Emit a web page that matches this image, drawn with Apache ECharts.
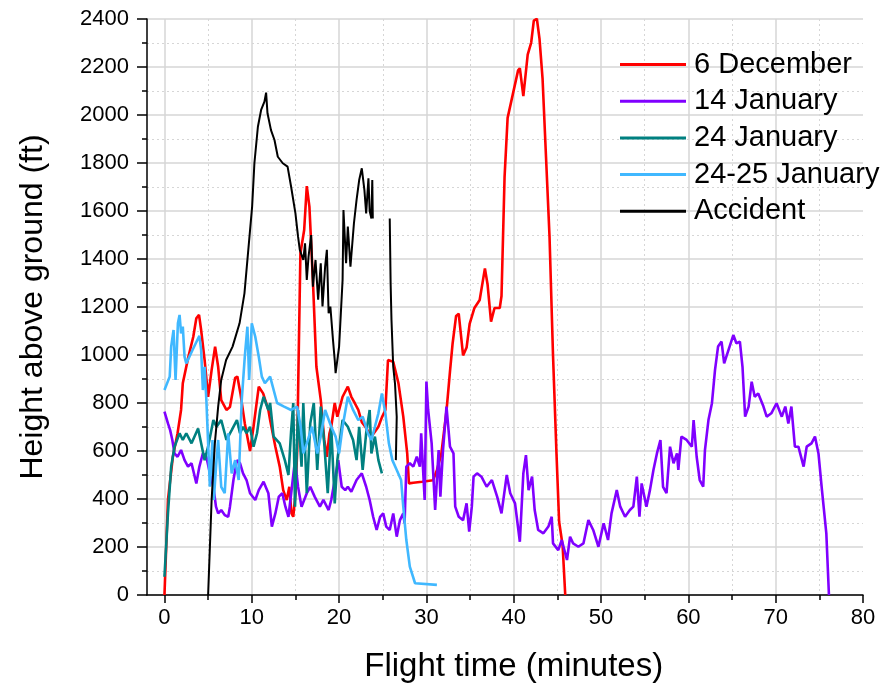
<!DOCTYPE html>
<html><head><meta charset="utf-8">
<script src="https://cdn.jsdelivr.net/npm/echarts@6/dist/echarts.min.js"></script>
<style>html,body{margin:0;padding:0;background:#fff}#c{width:890px;height:700px}</style>
</head><body><div id="c"></div>
<script>
// ---- data (x = flight time in minutes, y = height above ground in ft) ----
const seriesNames = ['6 December', '14 January', '24 January', '24-25 January', 'Accident'];
const xAxisRange = [0, 80];
const yAxisRange = [0, 2400];

const dec6 = [[0,0],[0.2,200],[0.4,396],[0.96,576],[1.5,674],[1.9,771],[2.1,882],[2.7,986],[3.3,1076],[3.65,1153],[3.96,1167],[4.2,1104],[4.6,979],[5.0,826],[5.4,937],[5.8,1035],[6.15,951],[6.5,812],[7.1,771],[7.5,783],[8.1,905],[8.35,910],[8.7,840],[9.2,715],[9.8,600],[10.2,701],[10.8,868],[11.3,840],[11.9,771],[12.1,729],[12.7,618],[13.2,535],[13.6,437],[14.0,396],[14.3,451],[14.55,340],[14.75,326],[15.0,420],[15.2,600],[15.35,951],[15.57,1424],[16.0,1521],[16.3,1704],[16.6,1618],[17.0,1312],[17.4,951],[17.9,813],[18.3,646],[18.6,576],[18.9,674],[19.1,701],[19.5,800],[19.8,743],[20.4,826],[21.0,868],[21.4,826],[21.8,799],[22.2,771],[22.6,720],[23.0,701],[23.7,660],[24.1,680],[24.5,701],[24.9,740],[25.3,771],[25.6,979],[26.2,972],[26.8,882],[27.35,743],[27.8,590],[28.0,465],[28.5,468],[29.5,472],[30.76,478],[31.2,520],[31.7,586],[32.3,767],[32.7,932],[33.0,1048],[33.4,1163],[33.7,1172],[34.2,998],[34.6,1031],[34.95,1130],[35.5,1196],[36.1,1229],[36.7,1361],[37.0,1295],[37.4,1139],[37.8,1196],[38.4,1196],[38.6,1246],[38.95,1741],[39.3,1988],[39.9,2087],[40.5,2186],[40.7,2195],[41.1,2079],[41.6,2252],[42.0,2302],[42.3,2393],[42.65,2401],[42.95,2318],[43.3,2153],[43.7,1823],[44.1,1493],[44.5,998],[44.9,586],[45.2,305],[45.6,206],[45.9,0]];

const jan14 = [[0,764],[0.4,715],[0.65,687],[0.9,646],[1.15,590],[1.5,576],[1.9,604],[2.3,562],[2.7,535],[3.1,549],[3.65,465],[4.0,535],[4.4,590],[4.8,576],[5.2,507],[5.6,451],[5.9,368],[6.15,340],[6.5,354],[6.9,333],[7.3,326],[7.5,368],[7.9,479],[8.3,562],[8.65,549],[9.0,507],[9.4,479],[9.8,424],[10.4,396],[10.8,437],[11.35,472],[11.9,424],[12.3,285],[12.7,340],[13.1,410],[13.5,424],[13.85,368],[14.2,326],[14.6,451],[14.95,562],[15.3,451],[15.7,368],[16.3,424],[16.7,451],[17.2,410],[17.8,368],[18.2,396],[18.8,354],[19.1,396],[19.5,479],[19.9,562],[20.3,451],[20.7,437],[21.0,451],[21.4,430],[22.0,479],[22.6,507],[23.1,451],[23.5,396],[23.9,326],[24.3,271],[24.7,326],[25.05,340],[25.4,285],[25.8,271],[26.2,340],[26.6,243],[26.97,312],[27.35,340],[27.5,299],[27.7,535],[28.1,549],[28.5,535],[28.9,576],[29.25,535],[29.4,674],[29.6,535],[29.8,396],[30.0,889],[30.2,771],[30.6,632],[31.0,354],[31.4,604],[31.6,410],[31.9,604],[32.3,785],[32.7,618],[33.1,590],[33.3,368],[33.7,326],[34.2,312],[34.6,382],[34.9,264],[35.2,368],[35.4,493],[35.8,507],[36.3,493],[36.9,451],[37.5,479],[38.1,410],[38.6,340],[39.2,500],[39.6,424],[40.15,382],[40.7,222],[41.1,507],[41.4,583],[41.7,437],[42.1,493],[42.4,354],[42.8,271],[43.4,257],[43.97,285],[44.35,326],[44.5,215],[45.1,187],[45.5,229],[46.1,146],[46.45,243],[46.8,215],[47.4,201],[47.98,215],[48.55,312],[49.1,271],[49.7,201],[50.3,299],[50.8,229],[51.2,340],[51.8,437],[52.2,368],[52.75,326],[53.3,354],[53.7,368],[54.1,493],[54.4,326],[54.65,465],[55.2,368],[55.6,437],[56.0,521],[56.4,590],[56.8,646],[57.1,451],[57.5,424],[57.9,618],[58.3,549],[58.7,590],[58.85,521],[59.2,660],[59.8,646],[60.4,618],[60.6,729],[60.95,576],[61.3,479],[61.7,451],[61.9,604],[62.3,729],[62.7,799],[63.05,937],[63.4,1035],[63.8,1056],[64.1,965],[64.6,1021],[65.15,1083],[65.5,1049],[65.9,1056],[66.2,951],[66.5,743],[66.9,785],[67.25,889],[67.6,826],[68.0,840],[68.6,785],[68.97,743],[69.5,757],[70.1,799],[70.7,743],[71.1,785],[71.45,715],[71.8,785],[72.2,618],[72.6,618],[73.2,535],[73.55,618],[74.1,632],[74.5,660],[74.9,590],[75.3,437],[75.8,257],[76.1,0]];

const jan24 = [[0,76],[0.4,340],[0.77,535],[1.15,618],[1.73,674],[2.1,646],[2.5,674],[3.1,632],[3.85,694],[4.2,632],[4.6,562],[5.0,618],[5.6,729],[5.96,701],[6.5,729],[7.1,646],[7.7,687],[8.3,729],[8.65,674],[9.0,701],[9.4,674],[9.8,701],[10.2,618],[10.6,674],[10.96,771],[11.35,826],[11.9,771],[12.1,800],[12.5,660],[13.2,632],[13.8,560],[14.2,500],[14.5,680],[14.75,800],[14.95,368],[15.3,771],[15.7,535],[15.9,800],[16.3,424],[16.7,715],[17.1,800],[17.5,521],[17.9,785],[18.3,632],[18.7,424],[19.1,701],[19.5,382],[19.8,562],[20.4,729],[21.0,701],[21.6,646],[22.0,562],[22.3,701],[22.7,521],[23.1,674],[23.5,771],[23.7,590],[24.1,660],[24.5,562],[24.9,507]];

const jan2425 = [[0,854],[0.6,910],[0.77,1035],[1.04,1104],[1.27,896],[1.54,1132],[1.73,1167],[1.9,1090],[2.1,1118],[2.3,993],[2.5,965],[3.2,1020],[4.0,1080],[4.2,1021],[4.4,854],[4.6,951],[4.8,812],[5.2,451],[5.5,646],[5.65,396],[5.96,562],[6.15,646],[6.5,451],[6.9,424],[7.3,674],[7.7,507],[8.1,562],[8.5,479],[8.85,812],[9.2,993],[9.5,1118],[9.7,896],[10.0,1132],[10.4,1076],[10.8,993],[11.15,910],[11.5,882],[12.1,910],[12.9,800],[13.7,785],[14.5,771],[15.2,785],[15.6,701],[15.9,590],[16.3,632],[16.9,701],[17.5,590],[17.9,660],[18.4,771],[19.1,701],[19.6,660],[20.0,590],[20.4,701],[21.0,826],[21.6,771],[22.2,729],[22.7,743],[23.3,674],[23.7,646],[24.1,701],[24.5,757],[24.9,840],[25.3,757],[25.7,632],[26.1,562],[26.6,521],[27.1,479],[27.35,368],[27.7,229],[28.1,118],[28.7,49],[31.2,42]];

const accident = [[5.0,0],[5.4,396],[5.77,632],[6.15,785],[6.5,896],[7.06,979],[7.8,1035],[8.6,1132],[9.16,1257],[9.7,1479],[10.04,1618],[10.3,1799],[10.7,1951],[11.07,2021],[11.45,2056],[11.64,2093],[11.8,2007],[12.2,1937],[12.6,1896],[12.98,1826],[13.55,1799],[14.1,1785],[14.5,1702],[15.0,1590],[15.3,1493],[15.5,1438],[15.9,1396],[16.1,1465],[16.3,1313],[16.5,1410],[16.8,1500],[17.0,1285],[17.3,1396],[17.6,1230],[17.9,1382],[18.1,1202],[18.4,1368],[18.6,1438],[18.8,1174],[19.0,1202],[19.3,1063],[19.5,979],[19.6,924],[20.0,1035],[20.4,1313],[20.5,1604],[20.8,1382],[21.0,1535],[21.3,1368],[21.7,1549],[22.0,1646],[22.3,1729],[22.6,1778],[22.9,1687],[23.1,1590],[23.36,1736],[23.5,1600],[23.7,1569],[23.8,1729],[23.86,1569],[24.8,'-'],[25.8,1569],[25.9,1300],[26.0,1146],[26.2,951],[26.4,882],[26.6,743],[26.5,562]];

const seriesData = [dec6, jan14, jan24, jan2425, accident];
const seriesColors = ['#ff0000', '#8000ff', '#008080', '#40b8ff', '#000000'];
const seriesWidths = [2.6, 2.6, 2.6, 2.6, 2];

// ---- layout ----
const FONT = "'Liberation Sans', Arial, sans-serif";
const xLeftPad = 2; // axis extends 2 min left of zero
const G = {left: 147, top: 19, width: 716, height: 576};
const padPx = G.width * xLeftPad / (xAxisRange[1] - xAxisRange[0] + xLeftPad);
const gridColor = '#d6d6d6';

const chart = echarts.init(document.getElementById('c'), null, {renderer: 'canvas'});
chart.setOption({
  animation: false,
  backgroundColor: '#ffffff',
  textStyle: {fontFamily: FONT},
  grid: [
    {left: G.left, top: G.top, width: G.width, height: G.height},
    {left: G.left + padPx, top: G.top, width: G.width - padPx, height: G.height}
  ],
  legend: {
    orient: 'vertical', left: 615, top: 45, itemWidth: 66, itemHeight: 3, itemGap: 7.7,
    icon: 'rect', selectedMode: false,
    textStyle: {fontFamily: FONT, fontSize: 29, lineHeight: 29, color: '#000', padding: [0,0,0,3]},
    data: seriesNames
  },
  xAxis: [
    {gridIndex: 0, type: 'value', min: xAxisRange[0] - xLeftPad, max: xAxisRange[1],
     axisLine: {show: true, onZero: false, lineStyle: {color: '#000', width: 1.5}},
     axisTick: {show: false}, axisLabel: {show: false}, splitLine: {show: false}},
    {gridIndex: 1, type: 'value', min: xAxisRange[0], max: xAxisRange[1], interval: 10,
     axisLine: {show: false, onZero: false},
     axisTick: {show: true, length: 8, lineStyle: {color: '#000', width: 1.5}},
     minorTick: {show: true, splitNumber: 2, length: 5, lineStyle: {color: '#000', width: 1.5}},
     axisLabel: {fontFamily: FONT, fontSize: 22, color: '#000', margin: 12},
     splitLine: {show: true, showMaxLine: false, lineStyle: {color: gridColor, width: 1.5}},
     minorSplitLine: {show: true, lineStyle: {color: gridColor, width: 1, type: [2, 3]}},
     name: 'Flight time (minutes)', nameLocation: 'middle', nameGap: 55,
     nameTextStyle: {fontFamily: FONT, fontSize: 33, color: '#000'}}
  ],
  yAxis: [
    {gridIndex: 0, type: 'value', min: yAxisRange[0], max: yAxisRange[1], interval: 200,
     axisLine: {show: true, onZero: false, lineStyle: {color: '#000', width: 1.5}},
     axisTick: {show: true, length: 10, lineStyle: {color: '#000', width: 1.5}},
     minorTick: {show: true, splitNumber: 2, length: 5, lineStyle: {color: '#000', width: 1.5}},
     axisLabel: {fontFamily: FONT, fontSize: 22, color: '#000', margin: 18, formatter: v => String(v)},
     splitLine: {show: true, lineStyle: {color: gridColor, width: 1.5}},
     minorSplitLine: {show: true, lineStyle: {color: gridColor, width: 1, type: [2, 3]}},
     name: 'Height above ground (ft)', nameLocation: 'middle', nameGap: 98,
     nameTextStyle: {fontFamily: FONT, fontSize: 32, color: '#000'}},
    {gridIndex: 1, type: 'value', min: yAxisRange[0], max: yAxisRange[1], show: false}
  ],
  series: seriesNames.map((name, i) => ({
    name: name, type: 'line', xAxisIndex: 0, yAxisIndex: 0,
    data: seriesData[i], showSymbol: false, symbol: 'none',
    color: seriesColors[i],
    lineStyle: {color: seriesColors[i], width: seriesWidths[i]},
    connectNulls: false, z: 2 + i
  }))
});
</script>
</body></html>
